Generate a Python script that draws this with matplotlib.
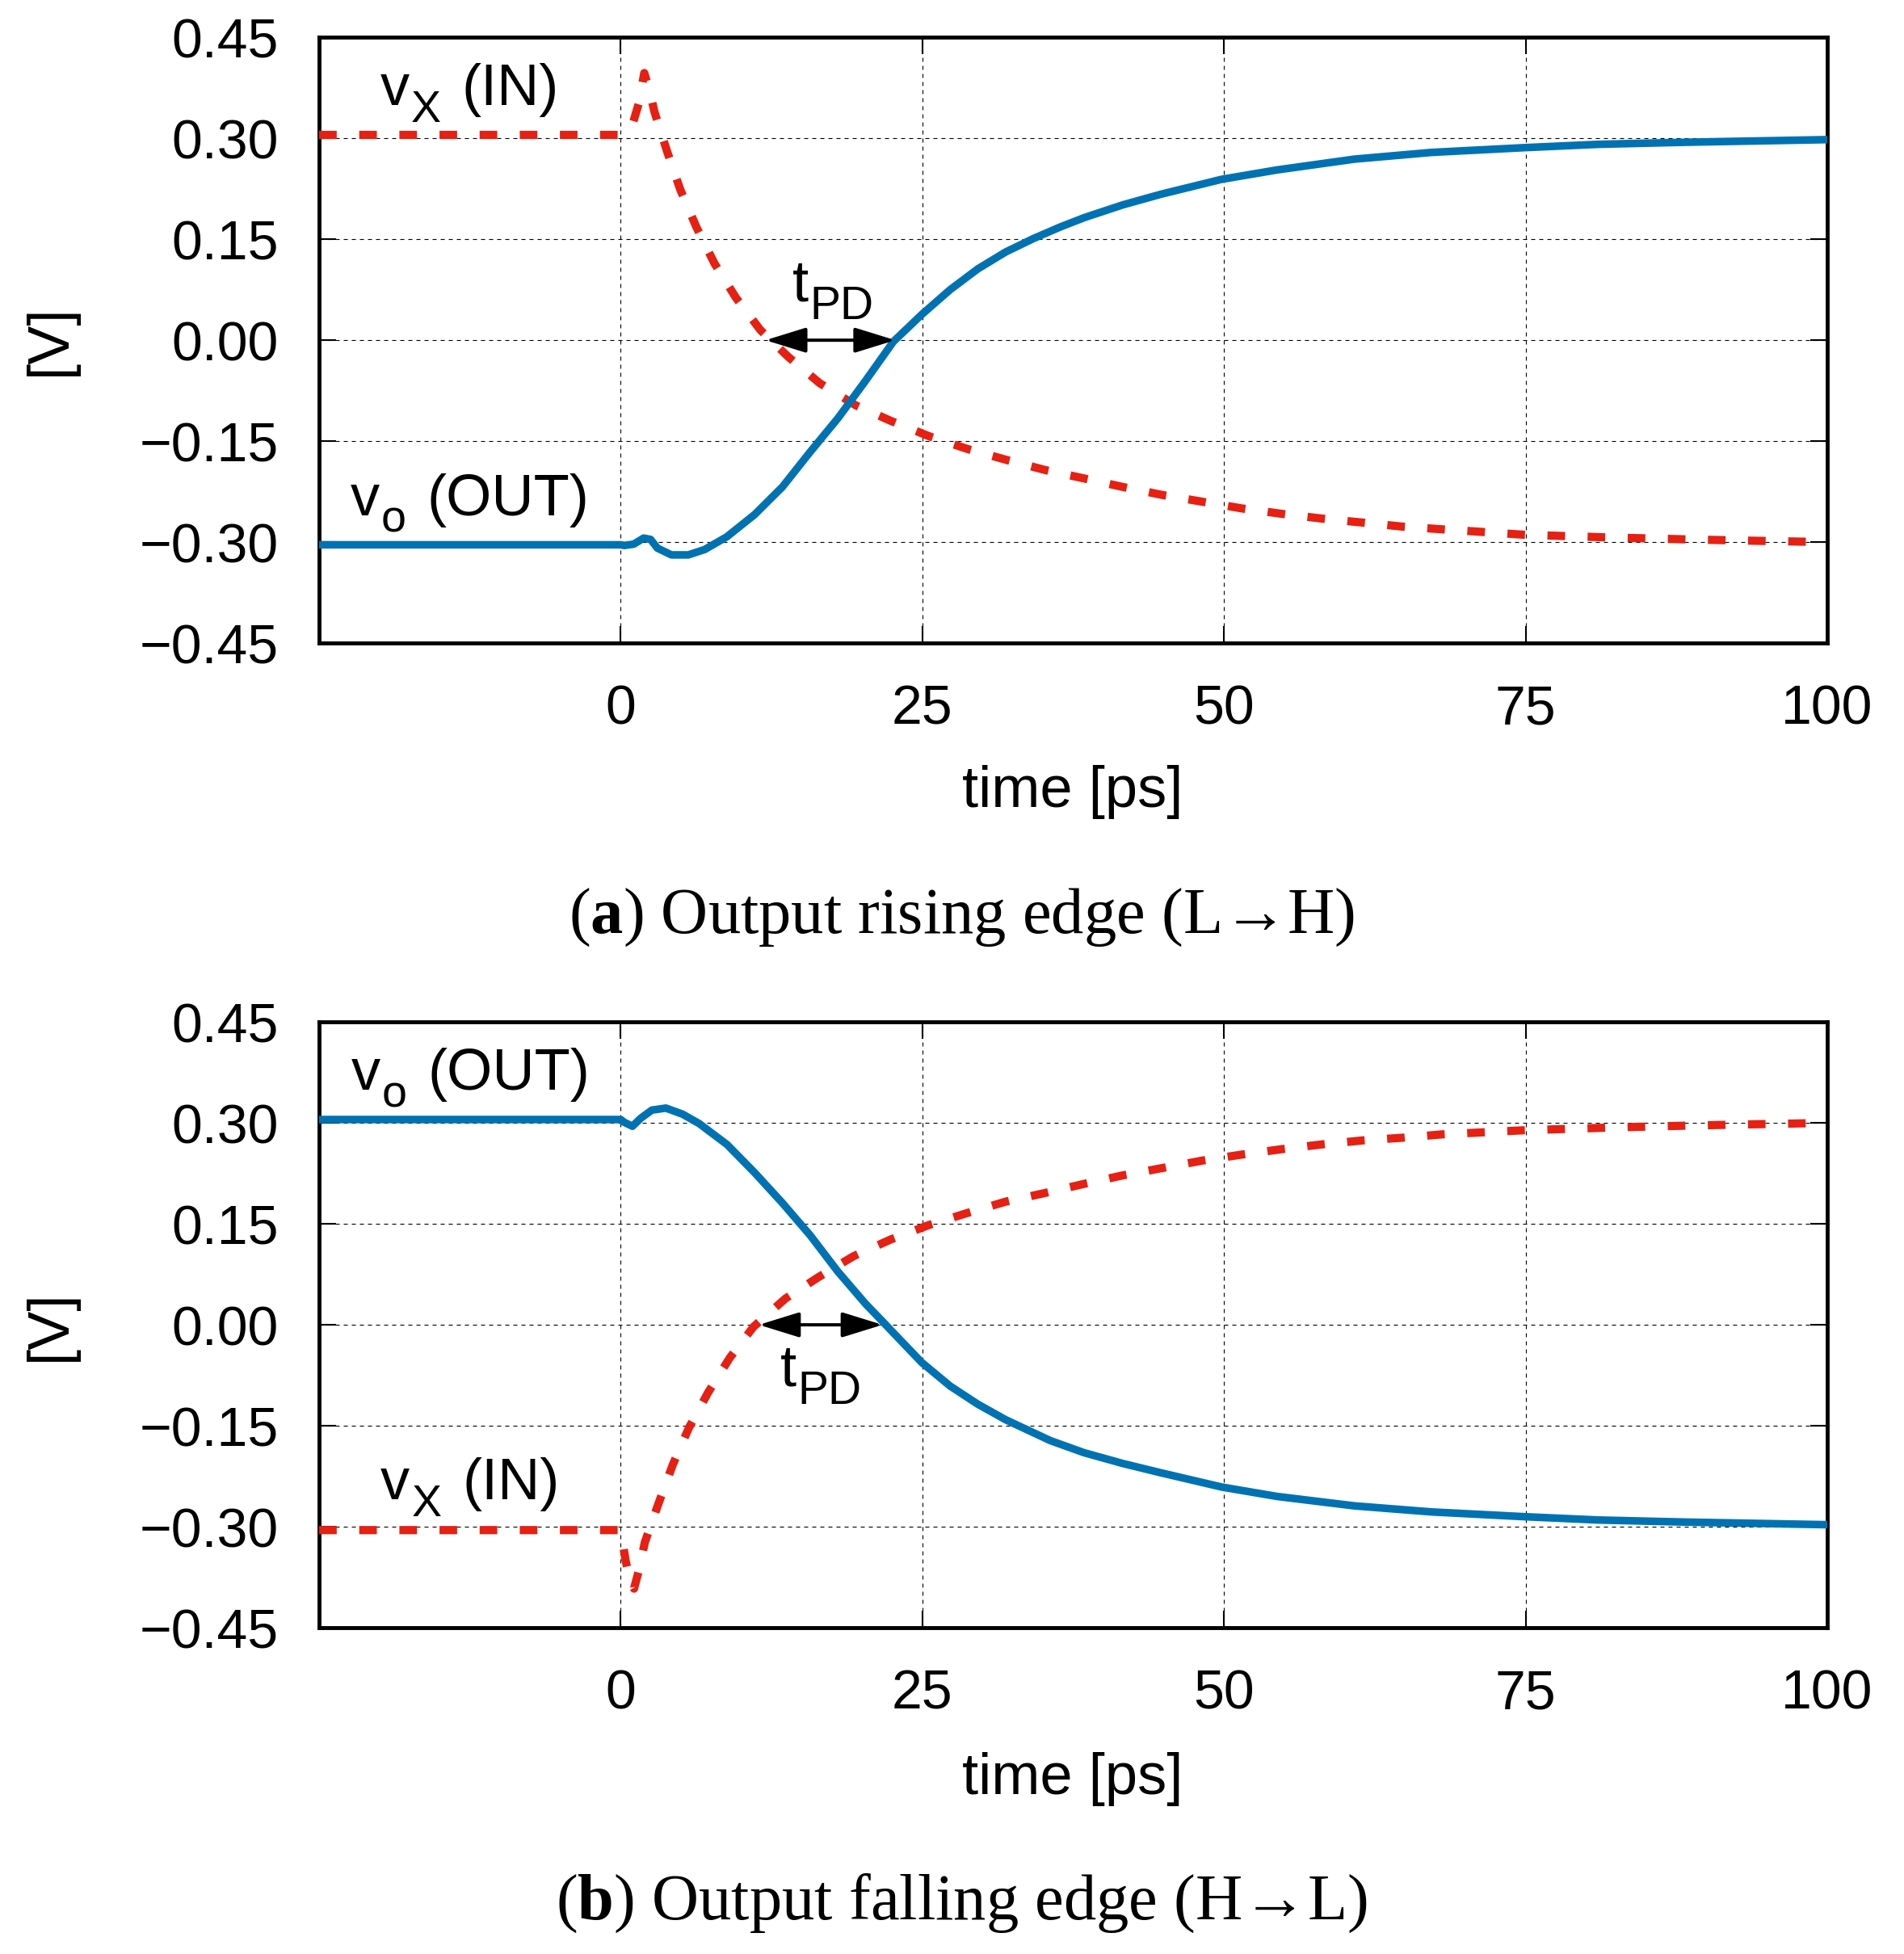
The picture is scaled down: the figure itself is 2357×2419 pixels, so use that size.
import matplotlib
matplotlib.use("Agg")
import matplotlib.pyplot as plt
import matplotlib.transforms as mtransforms

plt.rcParams['font.family'] = ['Liberation Sans', 'DejaVu Sans']
plt.rcParams['mathtext.fontset'] = 'custom'
plt.rcParams['mathtext.rm'] = 'Liberation Serif'
plt.rcParams['mathtext.bf'] = 'Liberation Serif:bold'

# ---- data (time in ps, voltage in V) ----
# (a) output rising edge
t_in_a = [-25, 0, 0.5, 1.0, 1.5, 1.95, 2.4, 2.8, 3.85, 4.93, 6.27, 7.77,
          9.55, 11.58, 13.9, 16.5, 19.5, 22.4, 25.6, 28.8, 32.0, 35.2, 38.3,
          41.6, 44.9, 48.2, 51.5, 54.8, 58.1, 61.5, 64.8, 68.1, 71.5, 74.8,
          81.8, 88.5, 94, 100]
vx_a = [0.305, 0.305, 0.310, 0.322, 0.352, 0.397, 0.370, 0.339, 0.280,
        0.224, 0.168, 0.114, 0.063, 0.015, -0.025, -0.064, -0.097, -0.120,
        -0.143, -0.162, -0.178, -0.193, -0.205, -0.218, -0.230, -0.240,
        -0.250, -0.258, -0.265, -0.271, -0.277, -0.281, -0.285, -0.289,
        -0.293, -0.296, -0.298, -0.300]

t_out_a = [-25, 0, 0.3, 1.08, 1.9, 2.47, 3.04, 4.2, 5.6, 6.96, 8.8, 11.1,
           13.4, 15.7, 18.0, 20.3, 22.6, 25.0, 27.3, 29.6, 31.9, 34.2, 36.4,
           38.4, 41.6, 44.8, 49.8, 54.4, 60.8, 67.2, 74.8, 81, 88, 94, 100]
vo_a = [-0.304, -0.304, -0.305, -0.303, -0.294, -0.296, -0.309, -0.319,
        -0.319, -0.311, -0.292, -0.259, -0.218, -0.166, -0.116, -0.060,
        -0.002, 0.039, 0.075, 0.106, 0.131, 0.151, 0.168, 0.182, 0.201,
        0.217, 0.239, 0.253, 0.269, 0.279, 0.286, 0.291, 0.294, 0.296, 0.298]

# (b) output falling edge
t_in_b = [-25, 0, 0.4, 0.8, 1.1, 1.5, 2.0, 3.16, 4.31, 5.65, 7.26, 9.04,
          11.0, 13.65, 16.4, 19.3, 22.4, 25.5, 28.7, 31.9, 35.2, 38.3, 41.6,
          44.9, 48.2, 51.5, 54.8, 58.1, 61.5, 64.8, 68.1, 71.5, 74.8, 81.8,
          88.5, 94, 100]
vx_b = [-0.305, -0.305, -0.350, -0.383, -0.392, -0.365, -0.323, -0.264,
        -0.208, -0.153, -0.100, -0.049, -0.003, 0.039, 0.071, 0.102, 0.127,
        0.148, 0.166, 0.183, 0.196, 0.209, 0.222, 0.233, 0.244, 0.253,
        0.261, 0.268, 0.274, 0.278, 0.283, 0.286, 0.289, 0.293, 0.296,
        0.298, 0.300]

t_out_b = [-25, 0, 0.28, 0.97, 1.66, 2.58, 3.74, 5.12, 6.5, 8.8, 11.1, 13.4,
           15.7, 18.0, 20.3, 21.7, 22.6, 24.95, 27.3, 29.6, 31.9, 35.6, 38.4,
           41.6, 44.8, 49.8, 54.4, 60.8, 67.2, 74.8, 81, 88, 94, 100]
vo_b = [0.305, 0.305, 0.301, 0.295, 0.307, 0.319, 0.322, 0.313, 0.299,
        0.268, 0.226, 0.181, 0.133, 0.079, 0.031, 0.005, -0.012, -0.056,
        -0.091, -0.118, -0.141, -0.172, -0.190, -0.206, -0.220, -0.241,
        -0.255, -0.269, -0.278, -0.285, -0.290, -0.293, -0.295, -0.297]

# propagation delay arrows (start, end) on the 0 V line
tpd_a = (12.0, 22.75)
tpd_b = (11.45, 21.7)

xticks = [0, 25, 50, 75, 100]
yticks = [0.45, 0.30, 0.15, 0.0, -0.15, -0.30, -0.45]
ytick_labels = ['0.45', '0.30', '0.15', '0.00', '\u22120.15', '\u22120.30',
                '\u22120.45']

BLUE = '#0072b2'
RED = '#e62012'
TICK_FS = 49
LAB_FS = 52

fig = plt.figure(figsize=(23.57, 24.19), dpi=100)
ax_a = fig.add_axes([0.1676, 0.6709, 0.7921, 0.3100])
ax_b = fig.add_axes([0.1676, 0.1670, 0.7921, 0.3100])
renderer = fig.canvas.get_renderer()


def style_axes(ax):
    ax.set_xlim(-25, 100)
    ax.set_ylim(-0.45, 0.45)
    ax.set_xticks(xticks)
    ax.set_yticks(yticks)
    ax.set_yticklabels(ytick_labels)
    ax.tick_params(direction='in', length=15, width=1.5, top=True,
                   right=True, labelsize=TICK_FS, pad=36)
    ax.grid(True, color='k', linestyle=(0, (4.5, 4.5)), linewidth=0.8)
    for s in ax.spines.values():
        s.set_linewidth(3.5)


def draw_panel(ax, t_in, vx, t_out, vo, tpd):
    style_axes(ax)
    ax.plot(t_in, vx, color=RED, lw=7.3, dashes=(2.15, 2.75),
            dash_capstyle='butt', zorder=3)
    ax.plot(t_out, vo, color=BLUE, lw=6.8, zorder=4)
    ax.annotate('', xy=(tpd[1], 0), xytext=(tpd[0], 0),
                arrowprops=dict(arrowstyle='<|-|>,head_length=3.1,'
                                'head_width=0.96',
                                mutation_scale=10, color='k', lw=2.9,
                                shrinkA=0, shrinkB=0), zorder=5)


def sub_label(ax, x, y, base, sub, rest='', sub_fs=40, drop=21, gap=24):
    # text with a gnuplot-like subscript: base, lowered sub, then the rest
    dx = 0.0
    for s, fs, dy, pre in [(base, LAB_FS, 0, 0), (sub, sub_fs, -drop, 0),
                           (rest, LAB_FS, 0, gap)]:
        if not s:
            continue
        dx += pre
        tr = mtransforms.offset_copy(ax.transData, fig=fig, x=dx, y=dy,
                                     units='dots')
        t = ax.text(x, y, s, fontsize=fs, ha='left', va='baseline',
                    transform=tr, zorder=6)
        dx += t.get_window_extent(renderer).width + 2


draw_panel(ax_a, t_in_a, vx_a, t_out_a, vo_a, tpd_a)
draw_panel(ax_b, t_in_b, vx_b, t_out_b, vo_b, tpd_b)

# curve labels
sub_label(ax_a, -19.95, 0.349, 'v', 'X', '(IN)')
sub_label(ax_a, -22.4, -0.260, 'v', 'o', '(OUT)')
sub_label(ax_a, 14.2, 0.058, 't', 'PD', sub_fs=41, drop=22)
sub_label(ax_b, -22.35, 0.349, 'v', 'o', '(OUT)')
sub_label(ax_b, -19.9, -0.259, 'v', 'X', '(IN)')
sub_label(ax_b, 13.2, -0.091, 't', 'PD', sub_fs=41, drop=22)

# axis titles
for yc, yl in [(0.5945, 0.826), (0.0897, 0.3216)]:
    fig.text(0.5634, yc, 'time [ps]', fontsize=LAB_FS, ha='center',
             va='center')
    fig.text(0.0263, yl, '[V]', fontsize=LAB_FS, ha='center', va='center',
             rotation=90)

# sub-captions
cap_font = ['Liberation Serif', 'DejaVu Serif']
fig.text(0.5053, 0.5304, '($\\mathbf{a}$) Output rising edge (L\u2192H)',
         fontsize=58, family=cap_font, ha='center', va='center')
fig.text(0.5049, 0.026, '($\\mathbf{b}$) Output falling edge (H\u2192L)',
         fontsize=58, family=cap_font, ha='center', va='center')

fig.savefig('out.png', dpi=100)
